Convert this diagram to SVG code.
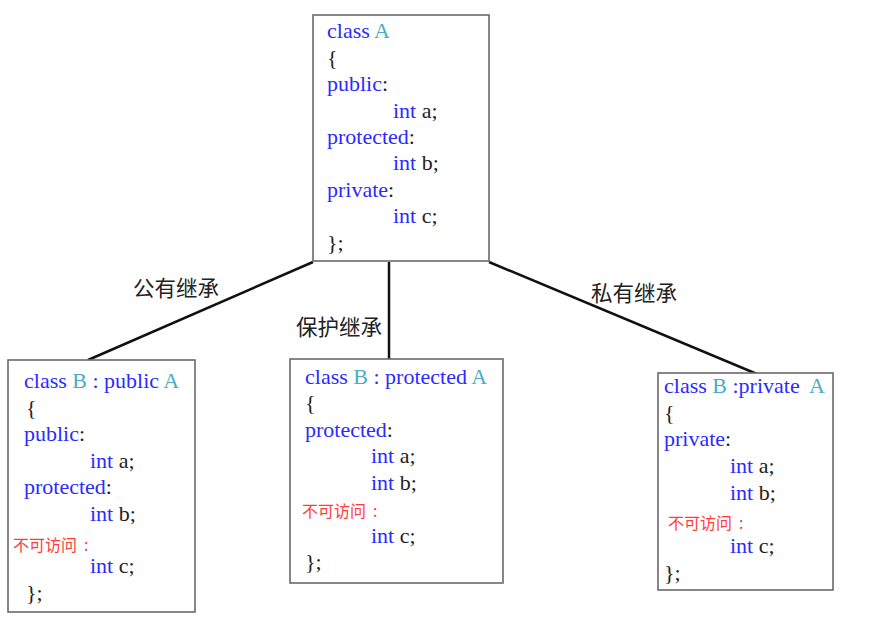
<svg xmlns="http://www.w3.org/2000/svg" width="874" height="620" viewBox="0 0 874 620">
<style>
.box{fill:#fff;stroke:#6a6a6a;stroke-width:1.6}
.code{font-family:"Liberation Serif","Times New Roman",serif;font-size:22px;fill:#2b2bff}
.k{fill:#2b2bff}
.t{fill:#4bacc6}
.d{fill:#222}
.na{font-family:"Noto Sans CJK SC",sans-serif;font-size:16px;fill:#ff3b3b}
.lbl{font-family:"Noto Sans CJK SC",sans-serif;font-size:21.5px;fill:#222}
.edge{stroke:#111;stroke-width:2.5;fill:none}
</style>
<rect width="874" height="620" fill="#fff"/>
<g id="connectors">
<line class="edge" x1="313" y1="262" x2="88" y2="360"/>
<line class="edge" x1="389" y1="262" x2="389" y2="359"/>
<line class="edge" x1="489" y1="262" x2="757" y2="374"/>
<text class="lbl" x="133" y="296">公有继承</text>
<text class="lbl" x="296" y="335">保护继承</text>
<text class="lbl" x="591" y="301">私有继承</text>
</g>
<g id="classA">
<rect class="box" x="313" y="15" width="176" height="246"/>
<text class="code"><tspan x="327" y="38">class <tspan class="t">A</tspan></tspan>
<tspan class="d" x="327" y="64.5">{</tspan>
<tspan x="327" y="91">public<tspan class="d">:</tspan></tspan>
<tspan x="393" y="117.5">int <tspan class="d">a;</tspan></tspan>
<tspan x="327" y="144">protected<tspan class="d">:</tspan></tspan>
<tspan x="393" y="170">int <tspan class="d">b;</tspan></tspan>
<tspan x="327" y="196.5">private<tspan class="d">:</tspan></tspan>
<tspan x="393" y="223">int <tspan class="d">c;</tspan></tspan>
<tspan class="d" x="327" y="249.5">};</tspan></text>
</g>
<g id="classB_public">
<rect class="box" x="8" y="360" width="187" height="252"/>
<text class="code"><tspan x="24" y="388">class <tspan class="t">B</tspan> : public <tspan class="t">A</tspan></tspan>
<tspan class="d" x="26" y="414.5">{</tspan>
<tspan x="24" y="441">public<tspan class="d">:</tspan></tspan>
<tspan x="90" y="467.5">int <tspan class="d">a;</tspan></tspan>
<tspan x="24" y="494">protected<tspan class="d">:</tspan></tspan>
<tspan x="90" y="520.5">int <tspan class="d">b;</tspan></tspan>
<tspan x="90" y="573">int <tspan class="d">c;</tspan></tspan>
<tspan class="d" x="26" y="600">};</tspan></text>
<text class="na" x="13" y="551">不可访问<tspan dx="7">:</tspan></text>
</g>
<g id="classB_protected">
<rect class="box" x="290" y="359" width="213" height="224"/>
<text class="code"><tspan x="305" y="384">class <tspan class="t">B</tspan> : protected <tspan class="t">A</tspan></tspan>
<tspan class="d" x="305" y="410">{</tspan>
<tspan x="305" y="437">protected<tspan class="d">:</tspan></tspan>
<tspan x="371" y="463">int <tspan class="d">a;</tspan></tspan>
<tspan x="371" y="490">int <tspan class="d">b;</tspan></tspan>
<tspan x="371" y="543">int <tspan class="d">c;</tspan></tspan>
<tspan class="d" x="305" y="569">};</tspan></text>
<text class="na" x="302" y="517">不可访问<tspan dx="7">:</tspan></text>
</g>
<g id="classB_private">
<rect class="box" x="658" y="373" width="175" height="217"/>
<text class="code"><tspan x="664" y="393">class <tspan class="t">B</tspan> :private <tspan class="t" dx="5">A</tspan></tspan>
<tspan class="d" x="664" y="420">{</tspan>
<tspan x="664" y="446">private<tspan class="d">:</tspan></tspan>
<tspan x="730" y="473">int <tspan class="d">a;</tspan></tspan>
<tspan x="730" y="500">int <tspan class="d">b;</tspan></tspan>
<tspan x="730" y="553">int <tspan class="d">c;</tspan></tspan>
<tspan class="d" x="664" y="580">};</tspan></text>
<text class="na" x="668" y="529">不可访问<tspan dx="7">:</tspan></text>
</g>
</svg>
